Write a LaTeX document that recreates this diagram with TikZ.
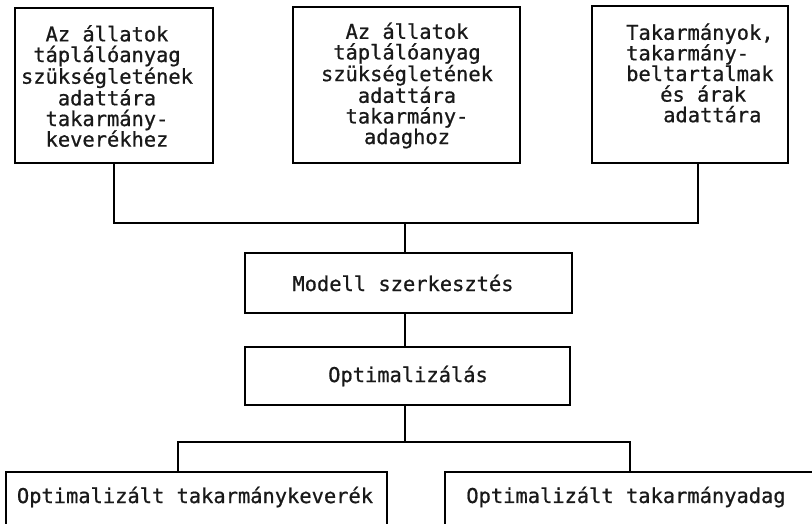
\documentclass[tikz,border=0pt]{standalone}
\usepackage{fontspec}
\newfontfamily\twfont{DejaVu Sans Mono}[FakeBold=0.8]
\usetikzlibrary{calc}
\begin{document}
\begin{tikzpicture}[x=1pt,y=-1pt,
  box/.style={draw, line width=1.6pt, rectangle, inner sep=0pt},
  txt/.style={font=\twfont\fontsize{20.4}{20.6}\selectfont, inner sep=0pt, align=center, text=black!90},
  conn/.style={line width=1.6pt}]
\useasboundingbox (0,0) rectangle (812,524);
\clip (0,0) rectangle (812,524);
% boxes
\node[box, minimum width=198pt, minimum height=155pt] (b1) at (114,85.5) {};
\node[box, minimum width=227pt, minimum height=156pt] (b2) at (406.5,85) {};
\node[box, minimum width=196pt, minimum height=157pt] (b3) at (690,84.5) {};
\node[box, minimum width=327pt, minimum height=60pt] (m) at (408.5,283) {};
\node[box, minimum width=325pt, minimum height=58pt] (o) at (407.5,376) {};
\node[box, minimum width=381pt, minimum height=88pt] (r1) at (196.5,516) {};
\node[box, minimum width=375pt, minimum height=88pt] (r2) at (632.5,516) {};
% texts
\node[txt] (t1) at (107,86) {Az állatok\\táplálóanyag\\szükségletének\\adattára\\takarmány-\\keverékhez};
\node[txt] (t2) at (407,85.5) {Az állatok\\táplálóanyag\\szükségletének\\adattára\\takarmány-\\adaghoz};
\node[txt, align=left, anchor=west] (t3) at (626,73) {Takarmányok,\\takarmány-\\beltartalmak\\\hspace*{34pt}és árak\\\hspace*{37pt}adattára};
\node[txt] (tm) at (403,283) {Modell szerkesztés};
\node[txt] (to) at (408,376) {Optimalizálás};
\node[txt] (tr1) at (195,497) {Optimalizált takarmánykeverék};
\node[txt] (tr2) at (626,497) {Optimalizált takarmányadag};
% connectors
\coordinate (j1) at (405,223);
\coordinate (j2) at (405,442);
\draw[conn] (b1.south) |- (j1) -| ($(b3.south)+(8,0)$);
\draw[conn] (j1) -- (j1 |- m.north);
\draw[conn] (m.south -| j1) -- (o.north -| j1);
\draw[conn] (o.south -| j1) -- (j2);
\draw[conn] ($(r1.north)+(-18.5,0)$) |- (j2) -| ($(r2.north)+(-2.5,0)$);
\end{tikzpicture}
\end{document}
